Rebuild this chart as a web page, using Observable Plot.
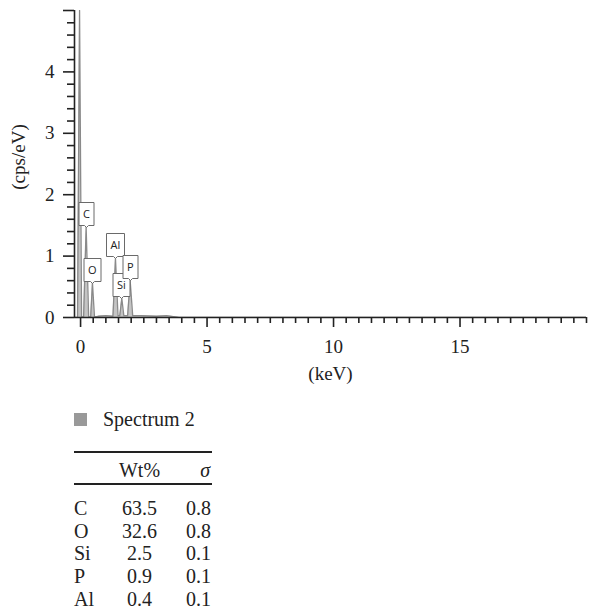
<!DOCTYPE html>
<html>
<head>
<meta charset="utf-8">
<script src="https://cdn.jsdelivr.net/npm/d3@7"></script>
<script src="https://cdn.jsdelivr.net/npm/@observablehq/plot@0.6"></script>
<style>
  body { margin: 0; background: #fff; }
  #wrap { position: relative; width: 590px; height: 615px; font-family: "Liberation Serif", serif; color: #222; }
  #chart { position: absolute; left: 0; top: 0; }
  .abs { position: absolute; font-size: 20px; line-height: 20px; white-space: nowrap; }
  .rule { position: absolute; height: 2px; background: #222; }
</style>
</head>
<body>
<div id="wrap">
  <div id="chart"></div>
</div>
<script>
// Spectrum (energy in keV, intensity in cps/eV)
const energy = [-0.24, -0.12, -0.04, 0.04, 0.12, 0.22, 0.32, 0.40, 0.47, 0.55, 0.70, 1.00, 1.28, 1.38, 1.48, 1.55, 1.63, 1.71, 1.86, 1.96, 2.06, 2.40, 3.00, 3.40, 3.60, 3.90, 20.0];
const counts = [0,     0,     5.0,   0.01, 0.01, 1.47, 0.01, 0.01, 0.56, 0.01, 0.02, 0.03, 0.02, 0.96, 0.03, 0.03, 0.31, 0.03, 0.03, 0.60, 0.03, 0.03, 0.02, 0.03, 0.02, 0.0,  0.0];

// Peak labels
const peakLabel = ["C", "O", "Al", "Si", "P"];
const peakEnergy = [0.22, 0.47, 1.38, 1.63, 1.96];
const peakHeight = [1.47, 0.56, 0.96, 0.31, 0.60];

// Axis ticks
const xMajorTicks = [0, 5, 10, 15];
const yLabelTicks = [0, 1, 2, 3, 4];
const yTopTick = [5];

// Composition table
const elements = ["C", "O", "Si", "P", "Al"];
const wtPercent = ["63.5", "32.6", "2.5", "0.9", "0.4"];
const sigma = ["0.8", "0.8", "0.1", "0.1", "0.1"];
const seriesName = "Spectrum 2";

const spectrum = energy.map((e, i) => ({e, c: counts[i]}));
const peaks = peakLabel.map((l, i) => ({label: l, e: peakEnergy[i], h: peakHeight[i]}));

const xMinor = d3.range(0, 20.001, 0.5).filter(d => !xMajorTicks.includes(d));
const yMinor = d3.range(0, 5.001, 0.2).map(d => +d.toFixed(1)).filter(d => !yLabelTicks.includes(d) && !yTopTick.includes(d));

const axisColor = "#222";
const sw = 1.6;

const plot = Plot.plot({
  width: 590,
  height: 400,
  marginLeft: 74,
  marginRight: 4,
  marginTop: 10,
  marginBottom: 83,
  style: {fontFamily: "Liberation Serif", fontSize: "19px", color: axisColor, background: "white", overflow: "visible"},
  x: {domain: [-0.24, 20]},
  y: {domain: [0, 5]},
  marks: [
    Plot.areaY(spectrum, {x: "e", y: "c", fill: "#c4c4c4", clip: true}),
    Plot.lineY(spectrum, {x: "e", y: "c", stroke: "#8a8a8a", strokeWidth: 1.3, clip: true}),
    Plot.ruleX([-0.24], {stroke: axisColor, strokeWidth: sw}),
    Plot.ruleY([0], {stroke: axisColor, strokeWidth: sw}),
    Plot.axisX(xMajorTicks, {tickSize: 10, tickPadding: 12, strokeWidth: sw, stroke: axisColor, tickFormat: d => String(d), label: "(keV)", labelAnchor: "center", labelArrow: "none", labelOffset: 62}),
    Plot.ruleX(xMinor, {x: d => d, y1: 0, y2: 0, insetBottom: -6, stroke: axisColor, strokeWidth: sw}),
    Plot.axisY(yLabelTicks, {tickSize: 11, tickPadding: 9, strokeWidth: sw, stroke: axisColor, tickFormat: d => String(d), label: "(cps/eV)", labelAnchor: "center", labelArrow: "none", labelOffset: 63}),
    Plot.ruleY(yTopTick, {y: d => d, x1: -0.24, x2: -0.24, insetLeft: -11, stroke: axisColor, strokeWidth: sw}),
    Plot.ruleY(yMinor, {y: d => d, x1: -0.24, x2: -0.24, insetLeft: -7, stroke: axisColor, strokeWidth: sw}),
    Plot.tip(peaks, {x: "e", y: "h", title: "label", anchor: "bottom", pointerSize: 4, textPadding: 4, fontSize: 11, fontFamily: "Open Sans", fill: "white", stroke: "#6a6a6a", strokeWidth: 1, pathFilter: "none"})
  ]
});
document.getElementById("chart").appendChild(plot);
const yLab = plot.querySelector('[aria-label="y-axis label"]');
if (yLab) {
  const t = yLab.getAttribute("transform");
  yLab.setAttribute("transform", "translate(0,-7)" + (t ? " " + t : ""));
}

// Legend and table below the chart
const wrap = document.getElementById("wrap");
function add(html, style, cls = "abs") {
  const d = document.createElement("div");
  d.className = cls;
  d.innerHTML = html;
  Object.assign(d.style, style);
  wrap.appendChild(d);
  return d;
}
add("", {left: "74px", top: "413px", width: "13px", height: "13px", background: "#999"}, "rule");
add(seriesName, {left: "103px", top: "409px"});

add("", {left: "74px", top: "451px", width: "138px"}, "rule");
add("", {left: "74px", top: "483px", width: "138px"}, "rule");
add("Wt%", {left: "139.5px", top: "460px", transform: "translateX(-50%)"});
add("<i>σ</i>", {left: "162px", width: "48px", top: "460px", textAlign: "right"});

elements.forEach((el, i) => {
  const top = 498 + i * 22.7;
  add(el, {left: "74px", top: top + "px"});
  add(wtPercent[i], {left: "139.5px", top: top + "px", transform: "translateX(-50%)"});
  add(sigma[i], {left: "162px", width: "49px", top: top + "px", textAlign: "right"});
});
</script>
</body>
</html>
